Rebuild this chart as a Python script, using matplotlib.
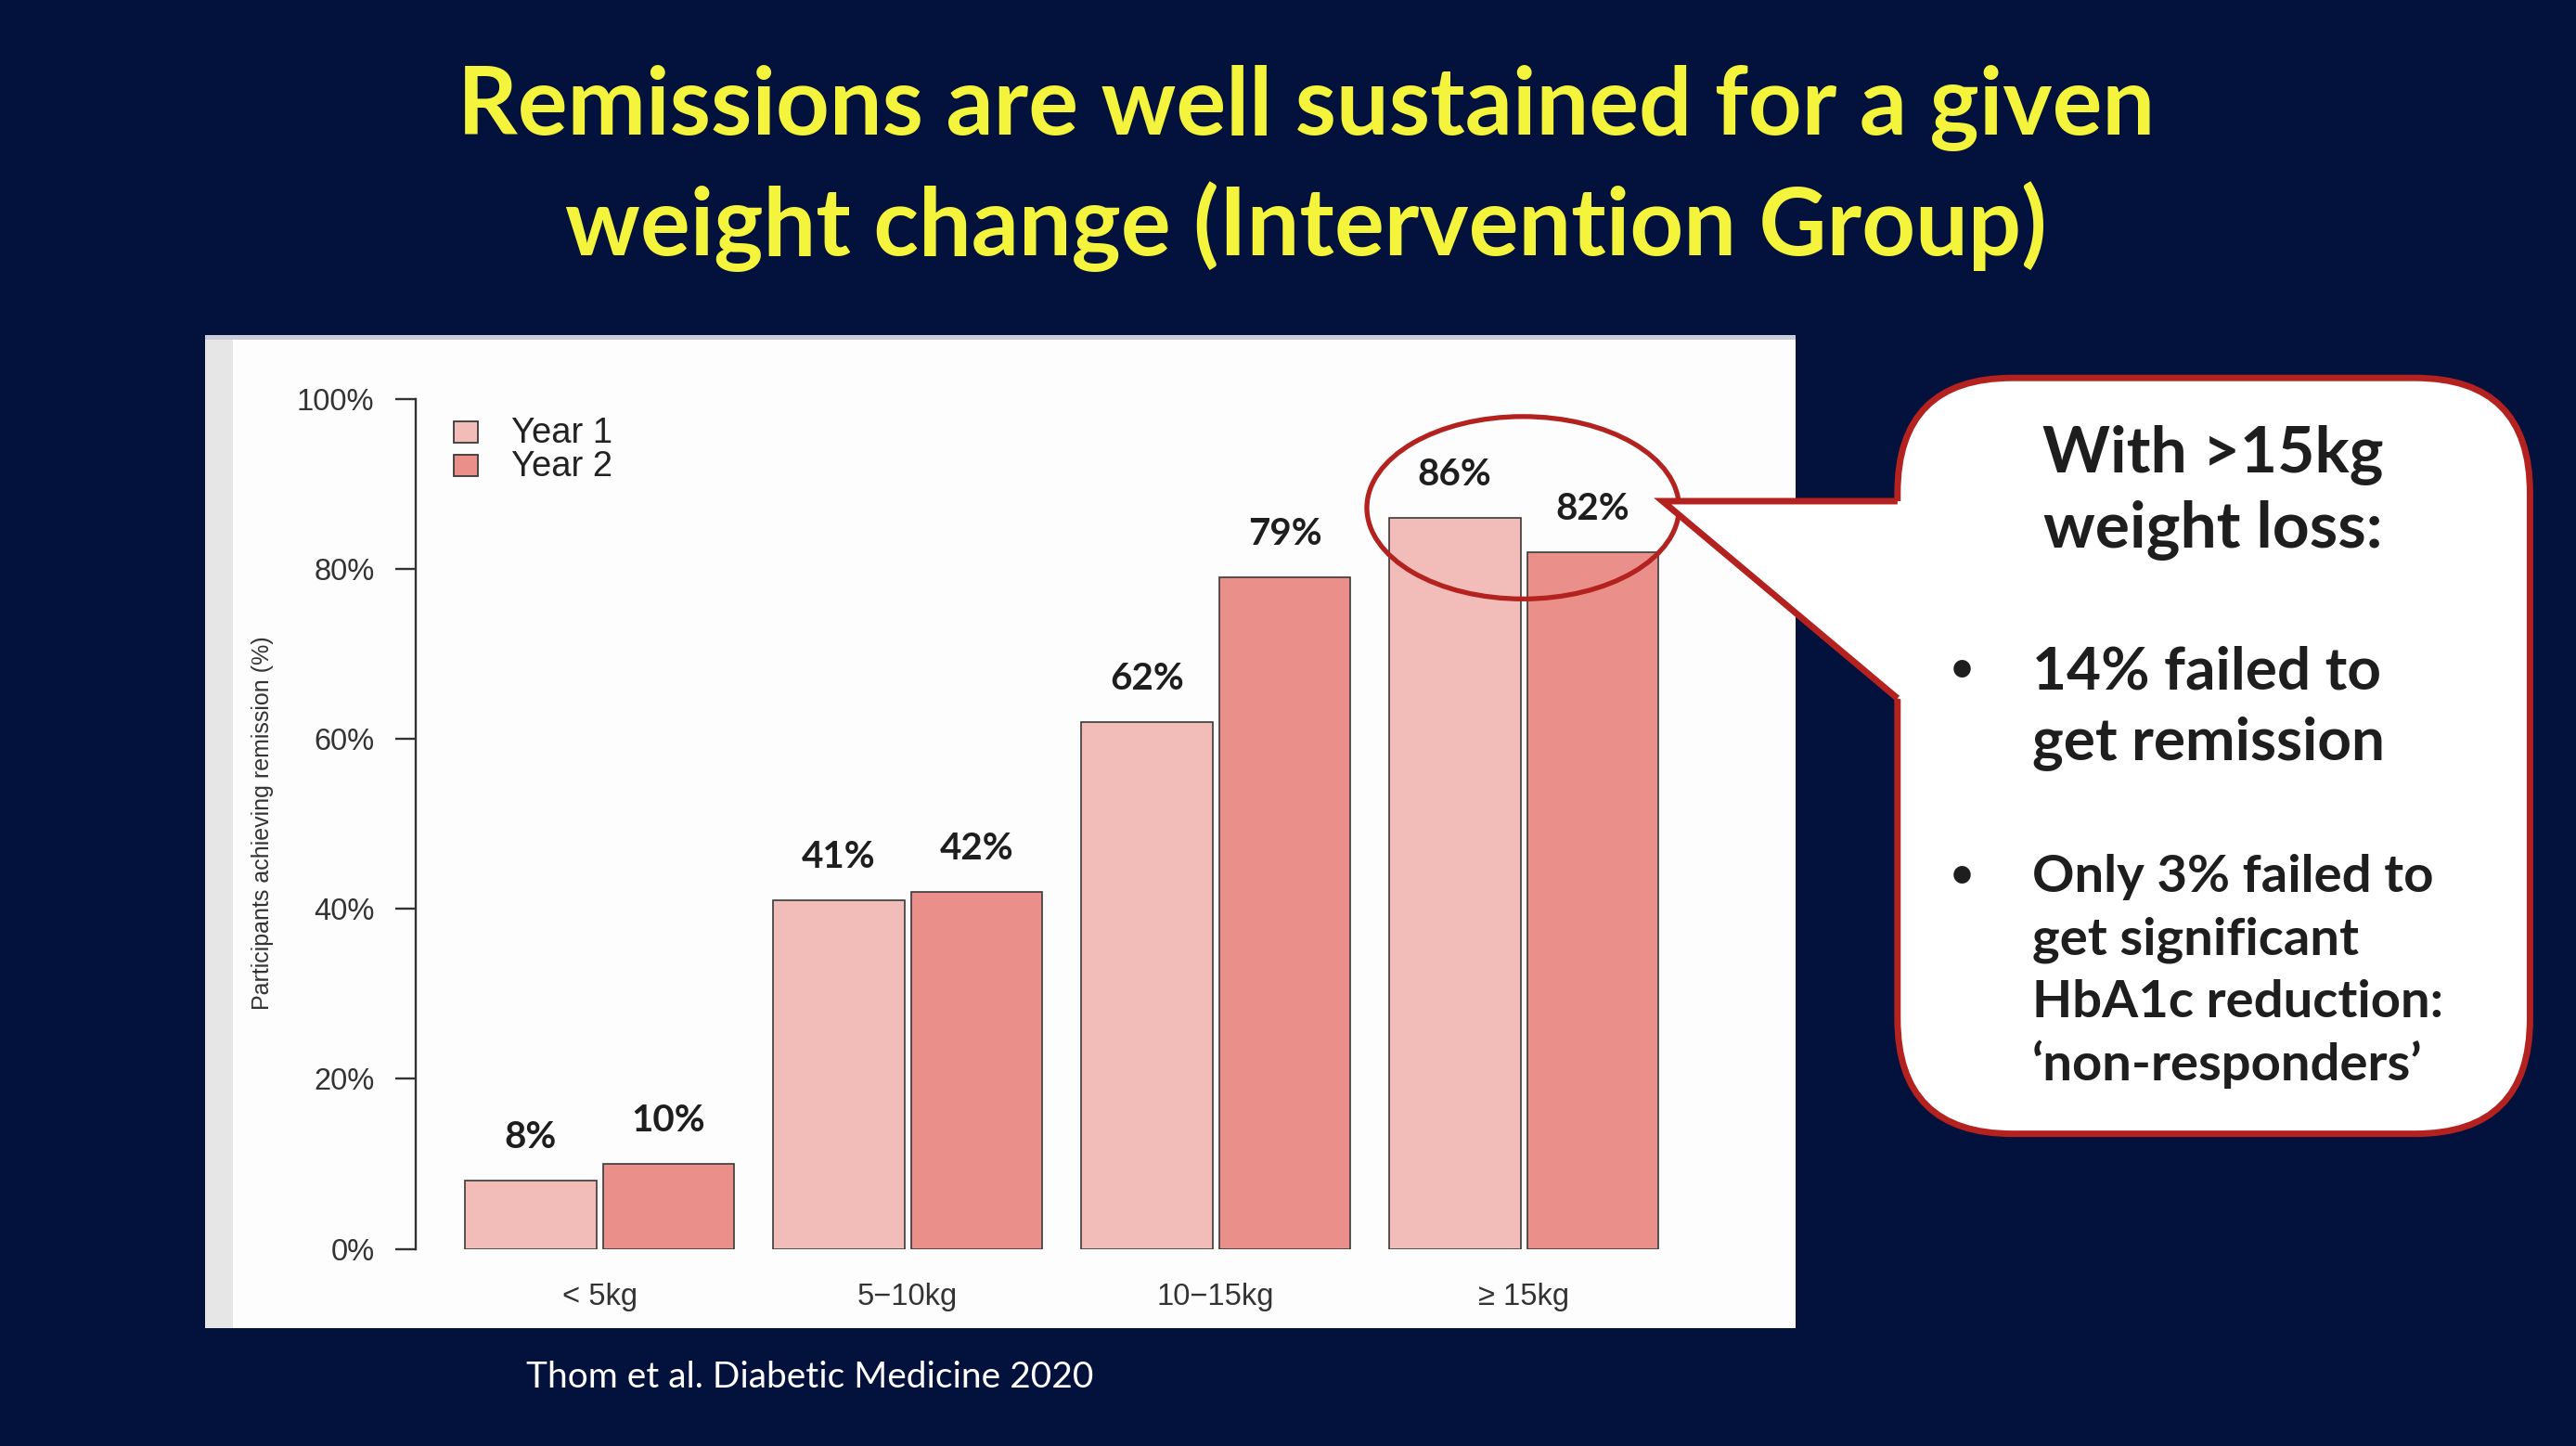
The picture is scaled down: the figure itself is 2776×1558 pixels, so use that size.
import matplotlib.pyplot as plt
import numpy as np
from matplotlib.patches import Rectangle, FancyBboxPatch, Ellipse, Polygon

# data
groups = ['< 5kg', '5\u221210kg', '10\u221215kg', '\u2265 15kg']
year1 = [8, 41, 62, 86]
year2 = [10, 42, 79, 82]
series_names = ['Year 1', 'Year 2']
yticks = [0, 20, 40, 60, 80, 100]

title_lines = ['Remissions are well sustained for a given',
               'weight change (Intervention Group)']
callout_head = ['With >15kg', 'weight loss:']
bullet1 = ['14% failed to', 'get remission']
bullet2 = ['Only 3% failed to', 'get significant', 'HbA1c reduction:',
           '\u2018non-responders\u2019']
citation = 'Thom et al. Diabetic Medicine 2020'

NAVY = '#03113d'
YELLOW = '#f4f43c'
RED = '#b3221f'
C1 = '#f2bdb9'
C2 = '#eb8f8a'
INK = '#1e1e1e'
W, H = 1568, 880  # layout units (screen-like, y down)

fig = plt.figure(figsize=(27.76, 15.58), dpi=100, facecolor=NAVY)

# background layer: white chart panel
back = fig.add_axes([0, 0, 1, 1], zorder=0)
back.set_xlim(0, W)
back.set_ylim(H, 0)
back.axis('off')
back.add_patch(Rectangle((125, 205), 968, 603, facecolor='#fdfdfd', edgecolor='none'))
back.add_patch(Rectangle((125, 205), 17, 603, facecolor='#e6e6e6', edgecolor='none'))
back.add_patch(Rectangle((125, 204), 968, 3, facecolor='#c9ced8', edgecolor='none'))

# bar chart
ax = fig.add_axes([253 / W, 1 - 760 / H, (1040 - 253) / W, (760 - 243) / H], zorder=1)
ax.patch.set_visible(False)
step = 187.5 / 80
centers = 1.4 + step * np.arange(len(groups))
bars1 = ax.bar(centers - 0.525, year1, width=1.0, color=C1, edgecolor='#3a3a3a', linewidth=1.2)
bars2 = ax.bar(centers + 0.525, year2, width=1.0, color=C2, edgecolor='#3a3a3a', linewidth=1.2)
ax.set_xlim(0, 787 / 80)
ax.set_ylim(0, 100)

for bars, vals in ((bars1, year1), (bars2, year2)):
    for b, v in zip(bars, vals):
        ax.annotate(f'{v}%', (b.get_x() + b.get_width() / 2, v), xytext=(0, 33.5),
                    textcoords='offset points', ha='center', va='center',
                    fontsize=29, fontweight='bold', family='Lato', color=INK)

for s in ['top', 'right', 'bottom']:
    ax.spines[s].set_visible(False)
ax.spines['left'].set_color('#333333')
ax.spines['left'].set_linewidth(1.7)
ax.set_yticks(yticks)
ax.set_yticklabels([f'{t}%' for t in yticks], family='Liberation Sans', fontsize=23.5, color='#333333')
ax.tick_params(axis='y', direction='out', length=16, width=1.7, color='#333333', pad=16)
ax.set_xticks(centers)
ax.set_xticklabels(groups, family='Liberation Sans', fontsize=23.5, color='#333333')
ax.tick_params(axis='x', length=0, pad=26)

fig.text(160 / W, 1 - 501 / H, 'Participants achieving remission (%)', rotation=90,
         ha='center', va='center', fontsize=18, color='#333333',
         family='Liberation Sans')

# front layer: legend, callout, titles
front = fig.add_axes([0, 0, 1, 1], zorder=2)
front.patch.set_visible(False)
front.set_xlim(0, W)
front.set_ylim(H, 0)
front.axis('off')

for i, (name, col) in enumerate(zip(series_names, [C1, C2])):
    yy = 263 + 20 * i
    front.add_patch(Rectangle((276, yy - 6.5), 15, 13, facecolor=col, edgecolor='#3a3a3a', linewidth=1.3))
    front.text(311, yy + 1, name, ha='left', va='center', fontsize=27.5, color='#222222',
               family='Liberation Sans')

for i, line in enumerate(title_lines):
    front.text(795, 66 + 72 * i, line, ha='center', va='center', fontsize=72.5,
               fontweight='bold', family='Lato', color=YELLOW)

front.text(320, 838, citation, ha='left', va='center', fontsize=28, family='Lato', color='white')

# ellipse around the >=15kg bars
front.add_patch(Ellipse((927, 309), 190, 111, facecolor='none', edgecolor=RED, linewidth=3.8))

# callout box with pointer
front.add_patch(FancyBboxPatch((1155, 230), 385, 460, boxstyle='round,pad=0,rounding_size=70',
                               facecolor='white', edgecolor=RED, linewidth=5))
front.add_patch(Polygon([(1012, 305), (1162, 305), (1162, 427), (1155, 425)], closed=True,
                        facecolor='white', edgecolor='none'))
front.plot([1155, 1012, 1155], [305, 305, 425], color=RED, linewidth=5,
           solid_joinstyle='miter', solid_capstyle='butt')

for i, line in enumerate(callout_head):
    front.text(1347, 277 + 46 * i, line, ha='center', va='center', fontsize=50,
               fontweight='bold', family='Lato', color=INK)

front.text(1194, 408, '\u2022', ha='center', va='center', fontsize=36, family='Lato', color=INK)
for i, line in enumerate(bullet1):
    front.text(1237, 409 + 43 * i, line, ha='left', va='center', fontsize=46,
               fontweight='bold', family='Lato', color=INK)

front.text(1194, 533, '\u2022', ha='center', va='center', fontsize=36, family='Lato', color=INK)
for i, line in enumerate(bullet2):
    front.text(1237, 534 + 38 * i, line, ha='left', va='center', fontsize=40.5,
               fontweight='bold', family='Lato', color=INK)

fig.savefig('out.png', dpi=100, facecolor=NAVY)
